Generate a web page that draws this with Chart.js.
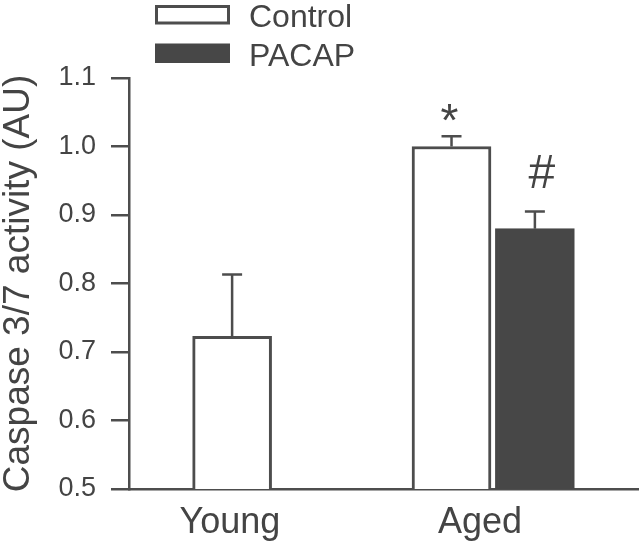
<!DOCTYPE html>
<html>
<head>
<meta charset="utf-8">
<script src="https://cdn.jsdelivr.net/npm/chart.js@4.4.0/dist/chart.umd.min.js"></script>
<style>
  html, body { margin: 0; padding: 0; background: #fff; }
  #wrap { width: 640px; height: 544px; }
</style>
</head>
<body>
<div id="wrap"><canvas id="chart" width="640" height="544"></canvas></div>
<script>
// data
const groups = ['Young', 'Aged'];
const groupTicks = [0.8, 1.94];          // where the group names sit on the x scale
const controlMean = [0.723, 1.0];
const controlSem = [0.09, 0.015];
const pacapMean = [null, 0.88];
const pacapSem = [null, 0.025];
const controlMarks = ['', '*'];
const pacapMarks = ['', '#'];
const yTicks = [0.5, 0.6, 0.7, 0.8, 0.9, 1.0, 1.1];

const ink = '#4d4d4d';
const dark = '#474747';
const textColor = '#444';
const family = "'Liberation Sans', Arial, sans-serif";
const barShift = 0.19;

function toPoints(means, shift) {
  return means.map((m, i) => ({ x: i + 1 + shift, y: m }));
}

// glyph size / lift for the significance marks
const markStyle = {
  '*': { size: 46, gap: 0, dx: -2 },
  '#': { size: 48, gap: 24, dx: 7 }
};

// error bars (upper only) + significance marks
const errorBars = {
  id: 'errorBars',
  afterDatasetsDraw(chart) {
    const { ctx } = chart;
    const y = chart.scales.y;
    ctx.save();
    chart.data.datasets.forEach((ds, di) => {
      const meta = chart.getDatasetMeta(di);
      meta.data.forEach((bar, i) => {
        const m = ds.data[i].y;
        if (m == null) return;
        const top = y.getPixelForValue(m + ds.sem[i]);
        ctx.strokeStyle = ink;
        ctx.lineWidth = 2.5;
        ctx.beginPath();
        ctx.moveTo(bar.x, bar.y);
        ctx.lineTo(bar.x, top);
        ctx.moveTo(bar.x - 10, top);
        ctx.lineTo(bar.x + 10, top);
        ctx.stroke();
        const mark = ds.marks[i];
        if (mark) {
          const st = markStyle[mark];
          ctx.fillStyle = textColor;
          ctx.font = st.size + 'px ' + family;
          ctx.textAlign = 'center';
          ctx.textBaseline = 'alphabetic';
          ctx.fillText(mark, bar.x + st.dx, top - st.gap);
        }
      });
    });
    ctx.restore();
  }
};

// stacked legend at the top left
const boxLegend = {
  id: 'boxLegend',
  afterDraw(chart) {
    const ctx = chart.ctx;
    ctx.save();
    chart.data.datasets.forEach((ds, i) => {
      const top = 5 + i * 38.5;
      ctx.fillStyle = ds.borderColor;
      ctx.fillRect(155, top, 75, 19.5);
      ctx.fillStyle = ds.backgroundColor;
      ctx.fillRect(158, top + 3, 69, 13.5);
      ctx.fillStyle = textColor;
      ctx.font = '32px ' + family;
      ctx.textAlign = 'left';
      ctx.textBaseline = 'alphabetic';
      ctx.fillText(ds.label, 249, top + 22);
    });
    ctx.restore();
  }
};

new Chart(document.getElementById('chart'), {
  type: 'bar',
  data: {
    datasets: [
      {
        label: 'Control', data: toPoints(controlMean, -barShift), sem: controlSem, marks: controlMarks,
        backgroundColor: '#ffffff', borderColor: ink, borderWidth: 3, borderSkipped: 'bottom',
        grouped: false, barThickness: 79, maxBarThickness: 79
      },
      {
        label: 'PACAP', data: toPoints(pacapMean, barShift), sem: pacapSem, marks: pacapMarks,
        backgroundColor: dark, borderColor: dark, borderWidth: 3, borderSkipped: 'bottom',
        grouped: false, barThickness: 79, maxBarThickness: 79
      }
    ]
  },
  options: {
    responsive: false,
    animation: false,
    layout: { padding: { top: 78, right: 2, left: 0, bottom: 0 } },
    plugins: { legend: { display: false }, tooltip: { enabled: false } },
    scales: {
      x: {
        type: 'linear', min: 0.34, max: 2.66, offset: false,
        grid: { display: false, drawTicks: false },
        border: { display: true, color: ink, width: 2.5 },
        afterBuildTicks: s => { s.ticks = groupTicks.map(v => ({ value: v })); },
        ticks: {
          autoSkip: false, maxRotation: 0, padding: 12, color: textColor,
          font: { family, size: 36 },
          callback: (v, i) => groups[i]
        },
        afterFit: s => { s.height = 55; }
      },
      y: {
        min: 0.5, max: 1.1,
        afterBuildTicks: s => { s.ticks = yTicks.map(v => ({ value: v })); },
        grid: { drawOnChartArea: false, drawTicks: true, tickLength: 18, color: ink, lineWidth: 2.5 },
        border: { color: ink, width: 2.5 },
        ticks: {
          padding: 15, color: textColor, font: { family, size: 27 },
          callback: v => v.toFixed(1)
        },
        title: {
          display: true, text: 'Caspase 3/7 activity (AU)', color: textColor,
          font: { family, size: 37, lineHeight: 1 }, padding: { top: 0, bottom: 0 }
        },
        afterFit: s => { s.width = 129; }
      }
    }
  },
  plugins: [errorBars, boxLegend]
});
</script>
</body>
</html>
